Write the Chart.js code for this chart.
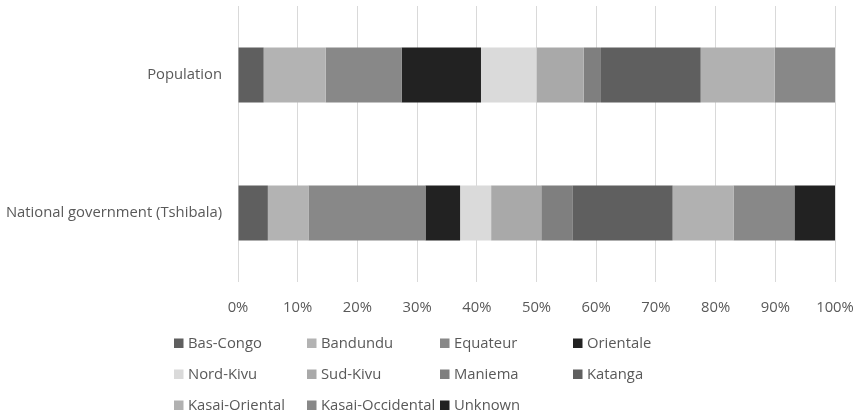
<!DOCTYPE html>
<html>
<head>
<meta charset="utf-8">
<script src="https://cdn.jsdelivr.net/npm/chart.js@4/dist/chart.umd.min.js"></script>
<style>
  html, body { margin: 0; padding: 0; background: #ffffff; }
  #wrap { width: 859px; height: 417px; position: relative; }
</style>
</head>
<body>
<div id="wrap"><canvas id="chart"></canvas></div>
<script>
// Share of each province, in percent, for the two groups
const categories = ['Population', 'National government (Tshibala)'];
const provinces = ['Bas-Congo', 'Bandundu', 'Equateur', 'Orientale', 'Nord-Kivu', 'Sud-Kivu',
                   'Maniema', 'Katanga', 'Kasai-Oriental', 'Kasai-Occidental', 'Unknown'];
const populationShare = [4.3, 10.4, 12.7, 13.3, 9.3, 7.9, 2.9, 16.7, 12.4, 10.1, 0];
const governmentShare = [5.0, 6.8, 19.6, 5.8, 5.2, 8.4, 5.2, 16.8, 10.2, 10.2, 6.8];
const xTicks = ['0%', '10%', '20%', '30%', '40%', '50%', '60%', '70%', '80%', '90%', '100%'];

const colors = ['#5f5f5f', '#b3b3b3', '#888888', '#222222', '#dadada', '#a9a9a9',
                '#7f7f7f', '#5f5f5f', '#b1b1b1', '#888888', '#222222'];

const FONT = '"Open Sans", "Liberation Sans", sans-serif';
const FONT_SIZE = 14.8;
const TEXT = '#595959';

const datasets = provinces.map((name, i) => ({
  label: name,
  data: [populationShare[i], governmentShare[i]],
  backgroundColor: colors[i],
  borderWidth: 0,
  barPercentage: 0.8,
  categoryPercentage: 0.5
}));

// Legend laid out as a four-column grid below the plot
const gridLegend = {
  id: 'gridLegend',
  afterDraw(chart) {
    const ctx = chart.ctx;
    const cols = [174, 307, 440, 573];
    const rows = [343, 374, 405];
    ctx.save();
    ctx.font = FONT_SIZE + 'px ' + FONT;
    ctx.textBaseline = 'middle';
    ctx.textAlign = 'left';
    chart.data.datasets.forEach((ds, i) => {
      const x = cols[i % 4];
      const y = rows[Math.floor(i / 4)];
      ctx.fillStyle = ds.backgroundColor;
      ctx.fillRect(x, y - 4.5, 9.5, 9.5);
      ctx.fillStyle = TEXT;
      ctx.fillText(ds.label, x + 14, y + 0.5);
    });
    ctx.restore();
  }
};

new Chart(document.getElementById('chart'), {
  type: 'bar',
  data: { labels: categories, datasets },
  plugins: [gridLegend],
  options: {
    indexAxis: 'y',
    responsive: true,
    maintainAspectRatio: false,
    animation: false,
    layout: { padding: { top: 6, bottom: 95, left: 0, right: 24 } },
    plugins: {
      legend: { display: false },
      tooltip: { enabled: false }
    },
    scales: {
      x: {
        stacked: true,
        min: 0,
        max: 100,
        border: { display: false },
        grid: { color: '#d9d9d9', lineWidth: 1, drawTicks: false },
        afterFit(scale) {
          scale.height = 40;
          scale.paddingLeft = 0;
          scale.paddingRight = 0;
        },
        ticks: {
          stepSize: 10,
          padding: 17,
          color: TEXT,
          font: { family: FONT, size: FONT_SIZE },
          callback: (v) => xTicks[Math.round(v / 10)]
        }
      },
      y: {
        stacked: true,
        border: { display: false },
        grid: { display: false, drawTicks: false },
        afterFit(scale) {
          scale.width = 238;
          scale.paddingTop = 0;
          scale.paddingBottom = 0;
        },
        ticks: {
          padding: 16,
          color: TEXT,
          font: { family: FONT, size: FONT_SIZE }
        }
      }
    }
  }
});
</script>
</body>
</html>
